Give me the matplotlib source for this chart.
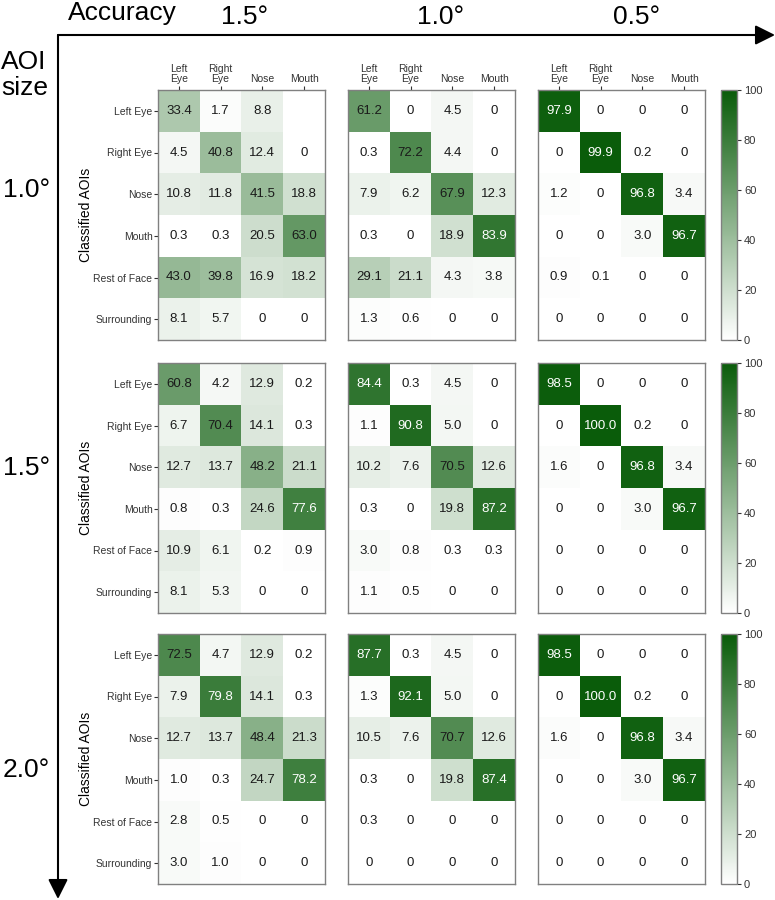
import numpy as np
import matplotlib
matplotlib.use("Agg")
import matplotlib.pyplot as plt
from matplotlib.colors import LinearSegmentedColormap

plt.rcParams['font.family'] = ['Liberation Sans', 'DejaVu Sans']

nan = np.nan
true_aois = ["Left\nEye", "Right\nEye", "Nose", "Mouth"]
classified_aois = ["Left Eye", "Right Eye", "Nose", "Mouth", "Rest of Face", "Surrounding"]
accuracy_labels = ["1.5°", "1.0°", "0.5°"]
aoi_size_labels = ["1.0°", "1.5°", "2.0°"]

# AOI size 1.0°
s10_a15 = [[33.4, 1.7, 8.8, nan], [4.5, 40.8, 12.4, 0], [10.8, 11.8, 41.5, 18.8],
           [0.3, 0.3, 20.5, 63.0], [43.0, 39.8, 16.9, 18.2], [8.1, 5.7, 0, 0]]
s10_a10 = [[61.2, 0, 4.5, 0], [0.3, 72.2, 4.4, 0], [7.9, 6.2, 67.9, 12.3],
           [0.3, 0, 18.9, 83.9], [29.1, 21.1, 4.3, 3.8], [1.3, 0.6, 0, 0]]
s10_a05 = [[97.9, 0, 0, 0], [0, 99.9, 0.2, 0], [1.2, 0, 96.8, 3.4],
           [0, 0, 3.0, 96.7], [0.9, 0.1, 0, 0], [0, 0, 0, 0]]
# AOI size 1.5°
s15_a15 = [[60.8, 4.2, 12.9, 0.2], [6.7, 70.4, 14.1, 0.3], [12.7, 13.7, 48.2, 21.1],
           [0.8, 0.3, 24.6, 77.6], [10.9, 6.1, 0.2, 0.9], [8.1, 5.3, 0, 0]]
s15_a10 = [[84.4, 0.3, 4.5, 0], [1.1, 90.8, 5.0, 0], [10.2, 7.6, 70.5, 12.6],
           [0.3, 0, 19.8, 87.2], [3.0, 0.8, 0.3, 0.3], [1.1, 0.5, 0, 0]]
s15_a05 = [[98.5, 0, 0, 0], [0, 100.0, 0.2, 0], [1.6, 0, 96.8, 3.4],
           [0, 0, 3.0, 96.7], [0, 0, 0, 0], [0, 0, 0, 0]]
# AOI size 2.0°
s20_a15 = [[72.5, 4.7, 12.9, 0.2], [7.9, 79.8, 14.1, 0.3], [12.7, 13.7, 48.4, 21.3],
           [1.0, 0.3, 24.7, 78.2], [2.8, 0.5, 0, 0], [3.0, 1.0, 0, 0]]
s20_a10 = [[87.7, 0.3, 4.5, 0], [1.3, 92.1, 5.0, 0], [10.5, 7.6, 70.7, 12.6],
           [0.3, 0, 19.8, 87.4], [0.3, 0, 0, 0], [0, 0, 0, 0]]
s20_a05 = [[98.5, 0, 0, 0], [0, 100.0, 0.2, 0], [1.6, 0, 96.8, 3.4],
           [0, 0, 3.0, 96.7], [0, 0, 0, 0], [0, 0, 0, 0]]

grid = [[s10_a15, s10_a10, s10_a05],
        [s15_a15, s15_a10, s15_a05],
        [s20_a15, s20_a10, s20_a05]]
cbar_ticks = [0, 20, 40, 60, 80, 100]

W, H = 775, 900
fig = plt.figure(figsize=(W / 100, H / 100), dpi=100)
cmap = LinearSegmentedColormap.from_list("wg", ["#ffffff", "#0a5c0a"])

def fx(x):
    return x / W

def fy(y):
    return 1 - y / H

col_left = [158, 348, 538]
panel_w = 167
row_top = [90, 363, 634]
panel_h = 250
frame_col = "#808080"

for r in range(3):
    for c in range(3):
        data = np.array(grid[r][c], dtype=float)
        ax = fig.add_axes([fx(col_left[c]), fy(row_top[r] + panel_h), panel_w / W, panel_h / H])
        ax.imshow(data, cmap=cmap, vmin=0, vmax=100, aspect='auto', interpolation='nearest')
        for i in range(data.shape[0]):
            for j in range(data.shape[1]):
                v = data[i, j]
                if np.isnan(v):
                    continue
                txt = "0" if v == 0 else f"{v:.1f}"
                ax.text(j, i, txt, ha='center', va='center', fontsize=9.5,
                        color='white' if v >= 75 else '#1a1a1a')
        for s in ax.spines.values():
            s.set_color(frame_col)
            s.set_linewidth(1.0)
        ax.tick_params(colors='#333333', length=3, width=0.8, labelsize=7.5, pad=1)
        if r == 0:
            ax.xaxis.tick_top()
            ax.set_xticks(range(4))
            ax.set_xticklabels(true_aois, fontsize=7.5, linespacing=1.0)
        else:
            ax.set_xticks([])
        if c == 0:
            ax.set_yticks(range(6))
            ax.set_yticklabels(classified_aois, fontsize=7.5)
            ax.set_ylabel("Classified AOIs", fontsize=10)
            ax.yaxis.set_label_coords((93 - col_left[0]) / panel_w, 0.5)
        else:
            ax.set_yticks([])
    # colorbar
    cax = fig.add_axes([fx(721), fy(row_top[r] + panel_h), 16 / W, panel_h / H])
    sm = matplotlib.cm.ScalarMappable(cmap=cmap, norm=matplotlib.colors.Normalize(0, 100))
    cb = fig.colorbar(sm, cax=cax, ticks=cbar_ticks)
    cb.outline.set_edgecolor(frame_col)
    cb.outline.set_linewidth(1.0)
    cax.tick_params(labelsize=8, length=3, width=0.8, colors='#333333', pad=2)

# Arrows
astyle = matplotlib.patches.ArrowStyle('-|>', head_length=0.6, head_width=0.3)
fig.add_artist(matplotlib.patches.FancyArrowPatch(
    (fx(58), fy(35)), (fx(775), fy(35)), transform=fig.transFigure,
    arrowstyle=astyle, mutation_scale=20, color='black', lw=1.5, shrinkA=0, shrinkB=0))
fig.add_artist(matplotlib.patches.FancyArrowPatch(
    (fx(58), fy(35)), (fx(58), fy(899)), transform=fig.transFigure,
    arrowstyle=astyle, mutation_scale=20, color='black', lw=1.5, shrinkA=0, shrinkB=0))

# Header texts
fig.text(fx(68), fy(13), "Accuracy", fontsize=19, ha='left', va='center')
for xc, lab in zip([245, 441, 637], accuracy_labels):
    fig.text(fx(xc), fy(17), lab, fontsize=19, ha='center', va='center')
fig.text(fx(1), fy(62), "AOI", fontsize=19, ha='left', va='center')
fig.text(fx(1), fy(88), "size", fontsize=19, ha='left', va='center')
for yc, lab in zip([190, 468, 770], aoi_size_labels):
    fig.text(fx(3), fy(yc), lab, fontsize=19, ha='left', va='center')

fig.savefig("out.png", dpi=100)
